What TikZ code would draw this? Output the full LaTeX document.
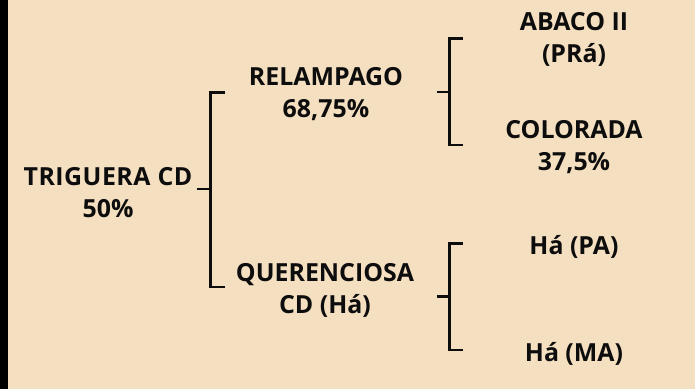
\documentclass[tikz,border=0pt]{standalone}
\usepackage{fontspec}
\setmainfont{Open Sans}
\definecolor{bg}{HTML}{F4DFC0}
\definecolor{ink}{HTML}{0D0D0D}
\begin{document}
\begin{tikzpicture}[x=1bp,y=-1bp,
  lbl/.style={font=\bfseries\fontsize{25}{32}\selectfont, text=ink, align=center, inner sep=0pt, anchor=base},
  brk/.style={draw=ink, line width=2.4bp}]
\fill[bg] (0,0) rectangle (695,389);
\fill[black] (0,0) rectangle (8,389);
\useasboundingbox (0,0) rectangle (695,389);
% labels (anchored at the baseline of their last line)
\node[lbl] (trig) at (108,217) {{\addfontfeature{LetterSpace=2}TRIGUERA CD}\\50\%};
\node[lbl] (rel) at (326,117) {RELAMPAGO\\68,75\%};
\node[lbl] (que) at (325,313) {QUERENCIOSA\\CD (Há)};
\node[lbl] (aba) at (574,62) {ABACO II\\(PRá)};
\node[lbl] (col) at (574,170.5) {COLORADA\\37,5\%};
\node[lbl] (hpa) at (574,254) {Há (PA)};
\node[lbl] (hma) at (574,361.7) {Há (MA)};
% bracket 1
\coordinate (s1) at (197,189);
\coordinate (j1) at (210.5,189);
\coordinate (a1) at (225,92.3);
\coordinate (c1) at (225,286.7);
\draw[brk] (s1) -- (j1);
\draw[brk] (a1) -| (j1) |- (c1);
% bracket 2
\coordinate (s2) at (436.5,91.7);
\coordinate (j2) at (449.3,91.7);
\coordinate (a2) at (463,38.3);
\coordinate (c2) at (463,145);
\draw[brk] (s2) -- (j2);
\draw[brk] (a2) -| (j2) |- (c2);
% bracket 3
\coordinate (s3) at (436.5,296.3);
\coordinate (j3) at (449.3,296.3);
\coordinate (a3) at (463,243.3);
\coordinate (c3) at (463,350);
\draw[brk] (s3) -- (j3);
\draw[brk] (a3) -| (j3) |- (c3);
\end{tikzpicture}
\end{document}
